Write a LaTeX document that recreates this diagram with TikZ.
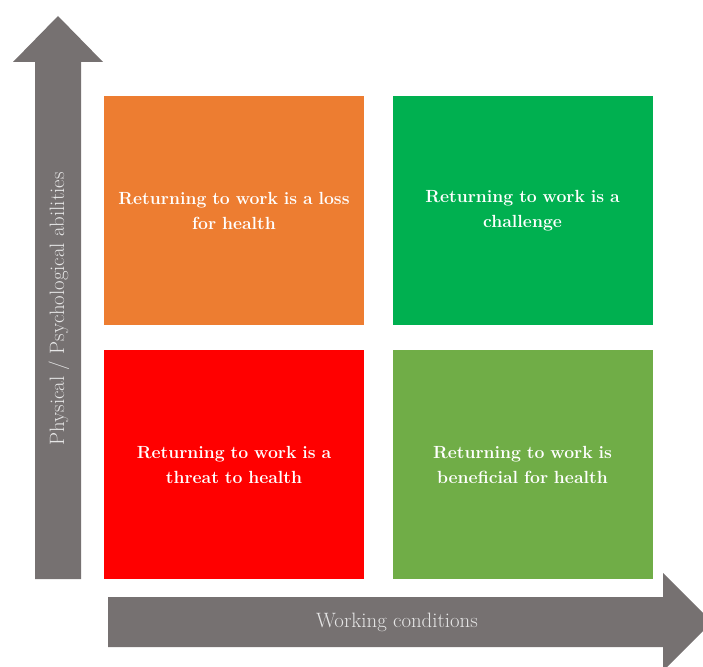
\documentclass[tikz,border=0pt]{standalone}
\usetikzlibrary{shapes.arrows}
\definecolor{cOrange}{HTML}{ED7D31}
\definecolor{cGreen}{HTML}{00B050}
\definecolor{cRed}{HTML}{FF0000}
\definecolor{cLight}{HTML}{70AD47}
\definecolor{cGray}{HTML}{767171}
\definecolor{cLabel}{HTML}{E6E6E6}
\tikzset{
  quad/.style={fill=#1, draw=none, minimum width=260pt, minimum height=229pt,
    text width=250pt, align=center, text=white, inner sep=0pt,
    font=\fontsize{17.6}{25}\selectfont\bfseries},
  axisfill/.style={fill=cGray, draw=none},
  axislabel/.style={text=cLabel, font=\fontsize{20.8}{24}\selectfont}
}
\begin{document}
\begin{tikzpicture}[x=1pt,y=-1pt]
\useasboundingbox (0,0) rectangle (703,666);
% vertical arrow
\fill[axisfill] (35,579) -- (35,62) -- (13,62) -- (58,16) -- (103,62) -- (81,62) -- (81,579) -- cycle;
% horizontal arrow
\fill[axisfill] (108,597) -- (663,597) -- (663,573) -- (712,622) -- (663,671) -- (663,647) -- (108,647) -- cycle;
\node[axislabel] (xlab) at (397,622) {Working conditions};
\node[axislabel, rotate=90] (ylab) at (59,309) {Physical / Psychological abilities};
% quadrants
\node[quad=cOrange] (tl) at (234,210.5) {Returning to work is a loss\\for health};
\node[quad=cGreen] (tr) at (522.5,210.5) {Returning to work is a\\challenge};
\node[quad=cRed] (bl) at (234,464.5) {Returning to work is a\\threat to health};
\node[quad=cLight] (br) at (522.5,464.5) {Returning to work is\\beneficial for health};
\end{tikzpicture}
\end{document}
